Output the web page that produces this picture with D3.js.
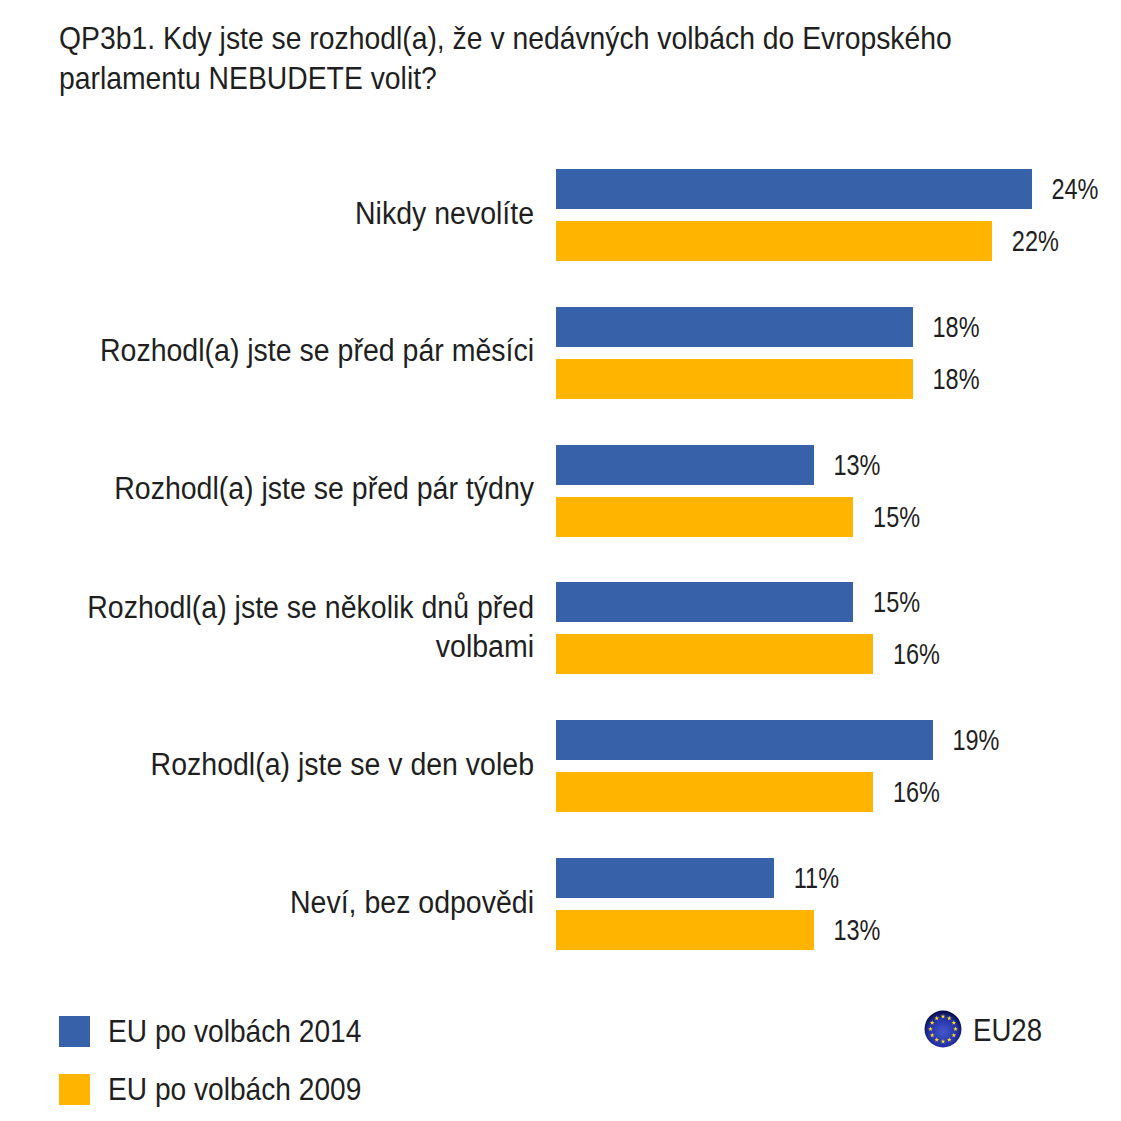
<!DOCTYPE html>
<html><head><meta charset="utf-8">
<script src="https://cdn.jsdelivr.net/npm/d3@7"></script>
<style>html,body{margin:0;padding:0;background:#fff}svg{display:block}text{font-family:"Liberation Sans",Arial,sans-serif;fill:#1f1f1f}</style>
</head><body><script>
const categories=[["Nikdy nevolíte"],["Rozhodl(a) jste se před pár měsíci"],["Rozhodl(a) jste se před pár týdny"],["Rozhodl(a) jste se několik dnů před","volbami"],["Rozhodl(a) jste se v den voleb"],["Neví, bez odpovědi"]];
const values2014=[24,18,13,15,19,11];
const values2009=[22,18,15,16,16,13];
const seriesNames=["EU po volbách 2014","EU po volbách 2009"];
const colors=["#3762AA","#FFB400"];
const titleLines=["QP3b1. Kdy jste se rozhodl(a), že v nedávných volbách do Evropského","parlamentu NEBUDETE volit?"];
const W=1121;
const svg=d3.select("body").append("svg").attr("width",W).attr("height",W);
function txt(x,y,s,size,anchor,sx){
  return svg.append("text").attr("transform",`translate(${x},${y}) scale(${sx},1)`).attr("text-anchor",anchor||"start").attr("font-size",size).text(s);
}
titleLines.forEach((l,i)=>txt(59,49+i*40,l,31,"start",0.914));
const x=d3.scaleLinear().domain([0,24]).range([556,1031.8]);
const y=d3.scaleBand().domain(d3.range(categories.length)).range([146,973]);
const barH=40,gap=12;
categories.forEach((c,i)=>{
  const cy=y(i)+y.bandwidth()/2;
  [values2014[i],values2009[i]].forEach((v,j)=>{
    const top=cy-barH-gap/2+j*(barH+gap);
    svg.append("rect").attr("x",x(0)).attr("y",top).attr("width",x(v)-x(0)).attr("height",barH).attr("fill",colors[j]).attr("shape-rendering","crispEdges");
    txt(x(v)+19.7,top+30,v+"%",29,"start",0.81);
  });
  const n=c.length;
  c.forEach((l,k)=>txt(534,cy+8.7+(k-(n-1)/2)*39,l,31,"end",0.92));
});
seriesNames.forEach((s,i)=>{
  const ty=1016+i*58;
  svg.append("rect").attr("x",59).attr("y",ty).attr("width",31).attr("height",31).attr("fill",colors[i]);
  txt(108,ty+26,s,31,"start",0.908);
});
const cx=943,cyy=1029;
const defs=svg.append("defs");
const rg=defs.append("radialGradient").attr("id","fl").attr("cx","50%").attr("cy","58%").attr("r","55%");
rg.append("stop").attr("offset","0%").attr("stop-color","#4258cc");
rg.append("stop").attr("offset","72%").attr("stop-color","#2430a4");
rg.append("stop").attr("offset","100%").attr("stop-color","#070c4a");
svg.append("circle").attr("cx",cx).attr("cy",cyy).attr("r",18.5).attr("fill","url(#fl)");
d3.range(12).forEach(i=>{
  const a=i*Math.PI/6;
  svg.append("path").attr("d",d3.symbol(d3.symbolStar,7)()).attr("transform",`translate(${cx+12.5*Math.cos(a)},${cyy+12.5*Math.sin(a)})`).attr("fill","#ffe21a");
});
txt(973,1041,"EU28",31,"start",0.89);
</script></body></html>
